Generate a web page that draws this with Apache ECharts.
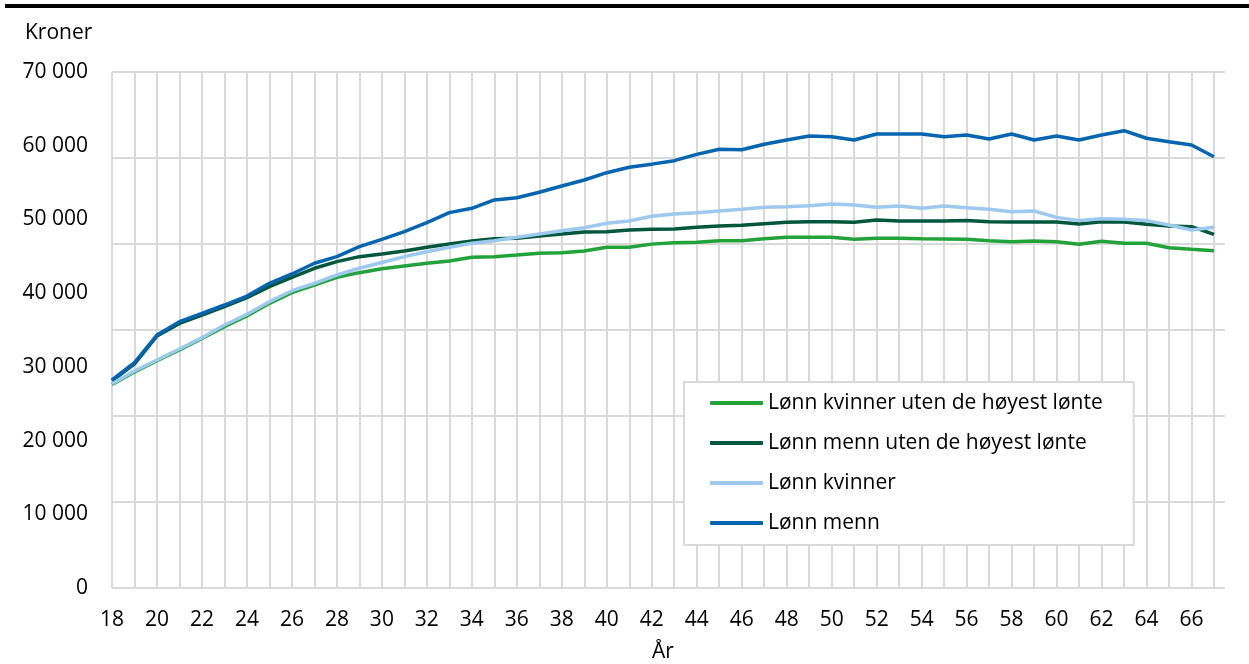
<!DOCTYPE html>
<html>
<head>
<meta charset="utf-8">
<script src="https://cdn.jsdelivr.net/npm/echarts@6/dist/echarts.min.js"></script>
<style>
html,body{margin:0;padding:0;background:#fff;}
#chart{width:1249px;height:664px;}
</style>
</head>
<body>
<div id="chart"></div>
<script>
const ages = [18,19,20,21,22,23,24,25,26,27,28,29,30,31,32,33,34,35,36,37,38,39,40,41,42,43,44,45,46,47,48,49,50,51,52,53,54,55,56,57,58,59,60,61,62,63,64,65,66,67].map(String);

const kvinnerUten = [27600,29300,30840,32290,33870,35450,36900,38620,40060,41100,42150,42780,43300,43680,44050,44360,44860,44950,45170,45400,45490,45720,46220,46220,46650,46850,46900,47120,47120,47390,47570,47570,47570,47300,47440,47440,47390,47350,47300,47120,46980,47070,46980,46630,47030,46760,46760,46170,45950,45760];
const mennUten = [28100,30400,34186,35900,37036,38160,39385,40880,42150,43370,44270,44950,45300,45720,46220,46670,47070,47390,47440,47750,48020,48300,48340,48570,48660,48700,48930,49110,49200,49430,49610,49700,49700,49610,49920,49790,49790,49790,49840,49700,49650,49650,49650,49380,49700,49650,49340,49110,49020,47980];
const kvinner = [27700,29440,30930,32420,33960,35680,37130,38840,40330,41330,42460,43370,44150,44950,45620,46220,46760,47120,47570,48020,48470,48880,49480,49790,50440,50740,50920,51140,51370,51650,51730,51870,52090,51960,51650,51820,51510,51820,51600,51370,51050,51140,50280,49840,50100,50010,49840,49250,48570,48930];
const menn = [28217,30565,34322,36130,37260,38390,39610,41330,42600,44050,44950,46300,47300,48340,49560,50920,51510,52640,52950,53680,54540,55350,56340,57070,57500,57970,58830,59510,59460,60190,60780,61320,61230,60780,61590,61590,61590,61230,61460,60920,61590,60780,61320,60780,61460,62040,61010,60550,60100,58510];

const yTicks = [0,10000,20000,30000,40000,50000,60000,70000];
const seriesNames = ['Lønn kvinner uten de høyest lønte','Lønn menn uten de høyest lønte','Lønn kvinner','Lønn menn'];
const colors = ['#22a33a','#00573c','#9dc9ee','#0565b0'];
const seriesData = [kvinnerUten, mennUten, kvinner, menn];

const FONT = 'Open Sans';
const FS = 21;
const chart = echarts.init(document.getElementById('chart'));
chart.setOption({
  animation: false,
  textStyle: {fontFamily: FONT},
  grid: [
    {left: 112, right: 35, top: 72, bottom: 76, containLabel: false, outerBoundsMode: 'none'},
    {left: 112, right: 24, top: 72, bottom: 76, containLabel: false, outerBoundsMode: 'none'}
  ],
  xAxis: [
    {
      type: 'category', gridIndex: 0, data: ages, boundaryGap: false,
      axisLine: {show: false}, axisTick: {show: false},
      axisLabel: {interval: 1, color: '#000', fontSize: FS, margin: 22, fontFamily: FONT},
      splitLine: {show: true, interval: 0, lineStyle: {color: '#d9d9d9', width: 2}},
      name: 'År', nameLocation: 'middle', nameGap: 54,
      nameTextStyle: {color: '#000', fontSize: FS, fontFamily: FONT}
    },
    {type: 'value', gridIndex: 1, min: 0, max: 1, show: false}
  ],
  yAxis: [
    {
      type: 'value', gridIndex: 0, min: yTicks[0], max: yTicks[yTicks.length-1], interval: 10000,
      axisLine: {show: false}, axisTick: {show: false}, splitLine: {show: false},
      axisLabel: {color: '#000', fontSize: FS, margin: 24, fontFamily: FONT,
        formatter: v => v === 0 ? '0' : (v/1000) + ' 000'}
    },
    {
      type: 'value', gridIndex: 1, min: 0, max: 6, interval: 1,
      axisLine: {show: false}, axisTick: {show: false}, axisLabel: {show: false},
      splitLine: {show: true, lineStyle: {color: '#d9d9d9', width: 2}}
    }
  ],
  legend: {
    orient: 'vertical', left: 684, top: 382,
    padding: [9, 31, 10, 26],
    itemGap: 16, itemWidth: 53, itemHeight: 4, icon: 'roundRect',
    borderColor: '#d9d9d9', borderWidth: 2, backgroundColor: '#fff',
    textStyle: {color: '#000', fontSize: FS, lineHeight: 24, fontFamily: FONT, padding: [0,0,0,0]},
    data: seriesNames
  },
  graphic: [
    {type: 'rect', left: 5, top: 4, shape: {width: 1244, height: 4}, style: {fill: '#000'}},
    {type: 'text', left: 25, top: 23, style: {text: 'Kroner', fill: '#000', font: FS + 'px "Open Sans"'}}
  ],
  series: seriesData.map((d, i) => ({
    name: seriesNames[i], type: 'line', xAxisIndex: 0, yAxisIndex: 0,
    data: d, symbol: 'none', smooth: false,
    lineStyle: {color: colors[i], width: 3.5},
    itemStyle: {color: colors[i]}, z: 3 + i
  }))
});
</script>
</body>
</html>
